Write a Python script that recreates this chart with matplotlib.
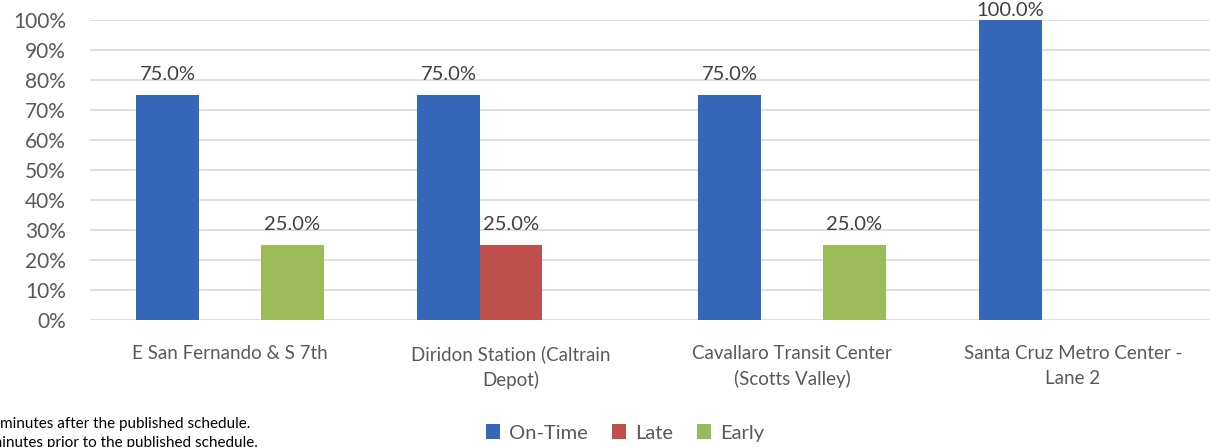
import matplotlib
matplotlib.use("Agg")
import matplotlib.pyplot as plt
import numpy as np

categories = ["E San Fernando & S 7th", "Diridon Station (Caltrain\nDepot)",
              "Cavallaro Transit Center\n(Scotts Valley)", "Santa Cruz Metro Center -\nLane 2"]
series_names = ["On-Time", "Late", "Early"]
on_time = [75.0, 75.0, 75.0, 100.0]
late = [0.0, 25.0, 0.0, 0.0]
early = [25.0, 0.0, 25.0, 0.0]
colors = ["#3566B8", "#C0504D", "#9BBB59"]
yticks = list(range(0, 101, 10))
footnotes = ["Late = more than 5 minutes after the published schedule.",
             "Early = more than 1 minutes prior to the published schedule."]

plt.rcParams['font.family'] = ['Lato', 'DejaVu Sans']

W, H = 1210, 447
fig = plt.figure(figsize=(W / 100, H / 100), dpi=100)
ax = fig.add_axes([89.5 / W, 127 / H, 1124 / W, 300 / H])

x = np.arange(len(categories))
bw = 0.222
for i, (vals, c) in enumerate(zip([on_time, late, early], colors)):
    pos = x + (i - 1) * bw
    bars = ax.bar(pos, vals, width=bw, color=c, label=series_names[i], zorder=3)
    for b, v in zip(bars, vals):
        if v > 0:
            off = 9 if v < 100 else 0.5
            ax.annotate(f"{v:.1f}%", (b.get_x() + b.get_width() / 2, v),
                        xytext=(0, off), textcoords="offset points",
                        ha="center", va="bottom", fontsize=14.5, color="#404040",
                        annotation_clip=False)

ax.set_xlim(-0.5, len(categories) - 0.5)
ax.set_ylim(0, 100)
ax.set_yticks(yticks)
ax.set_yticklabels([f"{t}%" for t in yticks], fontsize=15, color="#595959")
ax.set_xticks(x)
ax.set_xticklabels(categories, fontsize=13.5, color="#595959", linespacing=1.55)
ax.tick_params(axis="both", length=0)
ax.tick_params(axis="x", pad=18)
ax.tick_params(axis="y", pad=17)
ax.yaxis.grid(True, color="#D9D9D9", linewidth=1.2, zorder=0)
for s in ax.spines.values():
    s.set_visible(False)

fig.legend(loc="center", bbox_to_anchor=(625 / W, 1 - 433 / H), ncol=3, frameon=False,
           fontsize=14.5, handlelength=0.7, handleheight=0.7, handletextpad=0.45,
           columnspacing=1.2, labelcolor="#595959")

fig.text(250 / W, 1 - 424 / H, footnotes[0], ha="right", va="center", fontsize=11, color="#000000")
fig.text(258 / W, 1 - 443 / H, footnotes[1], ha="right", va="center", fontsize=11, color="#000000")

fig.savefig("out.png", dpi=100)
